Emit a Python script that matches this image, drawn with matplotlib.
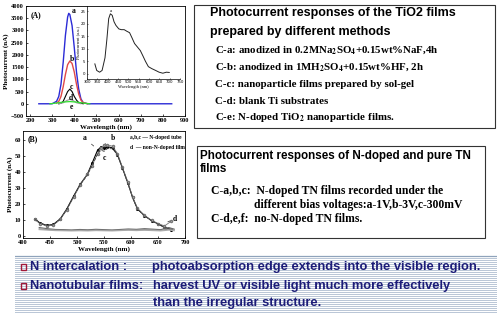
import matplotlib
matplotlib.use("Agg")
import matplotlib.pyplot as plt
from matplotlib.patches import Rectangle

plt.rcParams['mathtext.fontset'] = 'stix'

# ---- data: panel A (TiO2 films)
wl_a = [240, 300, 320, 330, 340, 350, 360, 370, 375, 380, 390, 400, 410, 420, 430, 440, 460, 840]
pc_a = [0, 0, 100, 300, 800, 1700, 2800, 3550, 3700, 3650, 3200, 2300, 1300, 600, 200, 50, 0, 0]
wl_b = [320, 330, 340, 350, 360, 370, 380, 390, 400, 410, 420, 430, 440, 460]
pc_b = [30, 100, 300, 700, 1200, 1600, 1750, 1650, 1300, 800, 400, 150, 50, 0]
wl_c = [330, 340, 350, 360, 370, 380, 390, 400, 410, 420, 440]
pc_c = [0, 20, 100, 300, 500, 600, 500, 300, 150, 50, 0]
wl_d = [330, 350, 365, 380, 395, 410, 430]
pc_d = [0, 40, 130, 180, 130, 40, 0]
wl_e = [290, 320, 350, 380, 410, 440, 470]
pc_e = [0, 30, 70, 90, 70, 30, 0]

# inset curve (a.u.)
wl_in = [338, 347, 361, 373, 387, 396, 405, 413, 422, 431, 440, 454, 466, 480, 492, 506,
         518, 530, 544, 558, 571, 583, 597, 614, 632, 649, 667, 684, 698]
pc_in = [4, 1.4, 0.7, 1.4, 6.4, 13.6, 22, 23.9, 23.3, 20.7, 19.3, 17.9, 17.6, 17.6, 17, 16.4,
         14.3, 12.1, 10.7, 9.3, 7.1, 5, 2.9, 2.1, 1.4, 0.7, 0.3, 0.7, 0.6]

# ---- data: panel B (N-doped vs pure)
wl_n = [422, 431, 444, 456, 469, 481, 494, 506, 519, 528, 538, 544, 550, 556, 566, 575,
        584, 594, 603, 612, 625, 638, 650, 662, 675]
pc_na = [10.9, 8.4, 6.8, 7.4, 10.9, 17, 25.2, 32.4, 38.5, 45.5, 53.5, 55.5, 55, 55.8, 55, 50.8,
         42.6, 33.4, 24.2, 17, 12.9, 9.8, 7.8, 5.7, 4.1]
pc_nb = [10.5, 8.0, 6.5, 7.0, 10.5, 16.5, 24.5, 32, 38.5, 44, 51.5, 55, 56.5, 57, 56, 51.5,
         43, 34, 24.5, 17.5, 13, 10, 8, 6.5, 9.5]
pc_nc = [10.7, 8.2, 6.6, 7.2, 10.7, 16.7, 25, 32.2, 38, 44, 51, 53.5, 53, 54.5, 54.5, 50.5,
         42.5, 33, 24, 17, 12.8, 9.7, 7.6, 5.5, 4.5]
wl_p = [430, 445, 460, 475, 490, 505, 520, 535, 550, 565, 580, 595, 610, 625, 640, 655, 670, 680]
pc_pd = [5.5, 4.8, 4.3, 4.2, 4.0, 4.3, 4.1, 4.4, 4.2, 4.0, 4.3, 4.6, 4.4, 4.8, 4.5, 4.2, 5.5, 4.5]
pc_pe = [4.7, 4.3, 4.0, 3.8, 3.7, 3.9, 3.7, 4.0, 3.8, 3.7, 3.9, 4.2, 4.0, 4.2, 4.0, 3.8, 4.5, 3.9]
pc_pf = [4.2, 3.9, 3.6, 3.5, 3.4, 3.5, 3.4, 3.6, 3.5, 3.4, 3.6, 3.8, 3.6, 3.8, 3.6, 3.4, 3.9, 3.5]

box1_title = ["Photocurrent responses of the TiO2 films", "prepared by different methods"]
box1_lines = [r"C-a: anodized in 0.2MNa$_\mathbf{2}$SO$_\mathbf{4}$+0.15wt%NaF,4h",
              r"C-b: anodized in 1MH$_\mathbf{2}$SO$_\mathbf{4}$+0.15wt%HF, 2h",
              "C-c: nanoparticle films prepared by sol-gel",
              "C-d: blank Ti substrates",
              r"C-e: N-doped TiO$_\mathbf{2}$ nanoparticle films."]
box2_title = ["Photocurrent responses of N-doped and pure TN", "films"]

W, H = 500, 322
def rect(l, t, r, b):
    return [l / W, 1 - b / H, (r - l) / W, (b - t) / H]

fig = plt.figure(figsize=(5, 3.22), dpi=100)
fig.patch.set_facecolor("white")

serif = "Liberation Serif"
sans = "Liberation Sans"
tick_kw = dict(labelsize=4.6, width=0.5, length=1.5, pad=1.5)

# ---------- panel A
axA = fig.add_axes(rect(26, 6, 185, 116))
axA.plot(wl_a, pc_a, color="#2b2bd6", lw=1.0)
axA.plot(wl_b, pc_b, color="#e04848", lw=1.0)
axA.plot(wl_c, pc_c, color="black", lw=0.8)
axA.plot(wl_d, pc_d, color="#9a9a9a", lw=0.8)
axA.plot(wl_e, pc_e, color="#30e030", lw=0.9)
axA.set_xlim(182, 900)
axA.set_ylim(-500, 4000)
axA.set_xticks(range(200, 901, 100))
axA.set_yticks(range(-500, 4001, 500))
axA.tick_params(direction="in", **tick_kw)
for lab in axA.get_xticklabels() + axA.get_yticklabels():
    lab.set_fontfamily(serif)
    lab.set_fontweight("bold")
axA.set_xlabel("Wavelength (nm)", fontsize=5, family=serif, weight="bold", labelpad=1)
axA.set_ylabel("Photocurrent (nA)", fontsize=5, family=serif, weight="bold", labelpad=1)
axA.text(0.03, 0.95, "(A)", transform=axA.transAxes, fontsize=5.5, family=serif, weight="bold", va="top")
for t, x, y in [("a", 388, 3800), ("b", 378, 1850), ("c", 380, 700), ("d", 375, 230), ("e", 380, -150)]:
    axA.text(x, y, t, fontsize=5.5, family=serif, weight="bold", va="center")
for s in axA.spines.values():
    s.set_linewidth(0.6)

axI = fig.add_axes(rect(87, 6, 180, 79))
axI.plot(wl_in, pc_in, color="#222222", lw=0.7)
axI.set_xlim(300, 750)
axI.set_ylim(-2, 27)
axI.set_xticks(range(300, 751, 50))
axI.set_yticks(range(0, 26, 5))
axI.tick_params(direction="in", labelsize=2.8, width=0.4, length=1, pad=1)
axI.spines["top"].set_visible(False)
axI.spines["right"].set_visible(False)
for s in axI.spines.values():
    s.set_linewidth(0.5)
axI.set_xlabel("Wavelength (nm)", fontsize=3.2, family=serif, labelpad=0.5)
axI.set_ylabel("Photocurrent (a.u.)", fontsize=3.2, family=serif, labelpad=0.5)
axI.text(408, 24.5, "a", fontsize=3.5, family=serif)
axI.patch.set_alpha(0)

# ---------- panel B
axB = fig.add_axes(rect(23, 131, 185, 238))
axB.plot(wl_n, pc_na, color="black", lw=0.8, marker="o", ms=1.2)
axB.plot(wl_n, pc_nb, color="#777777", lw=0.6, marker="o", ms=1.5, mfc="white")
axB.plot(wl_n, pc_nc, color="#444444", lw=0.6, ls="--")
axB.plot(wl_p, pc_pd, color="#666666", lw=0.8)
axB.plot(wl_p, pc_pe, color="#888888", lw=0.8)
axB.plot(wl_p, pc_pf, color="#aaaaaa", lw=0.8)
axB.set_xlim(400, 700)
axB.set_ylim(-1, 65.5)
axB.set_xticks(range(400, 701, 50))
axB.set_yticks(range(0, 61, 10))
axB.tick_params(direction="in", **tick_kw)
for lab in axB.get_xticklabels() + axB.get_yticklabels():
    lab.set_fontfamily(serif)
    lab.set_fontweight("bold")
axB.set_xlabel("Wavelength (nm)", fontsize=5, family=serif, weight="bold", labelpad=0.5)
axB.set_ylabel("Photocurrent (nA)", fontsize=5, family=serif, weight="bold", labelpad=1)
axB.text(0.03, 0.96, "(B)", transform=axB.transAxes, fontsize=5.5, family=serif, weight="bold", va="top")
for t, xy, xt in [("a", (535, 55), (514, 61)), ("b", (552, 57.5), (566, 61)),
                  ("c", (550, 53), (550, 48.5)), ("d", (668, 9), (681, 11))]:
    axB.annotate(t, xy=xy, xytext=xt, fontsize=5.5, family=serif, weight="bold",
                 ha="center", va="center", arrowprops=dict(arrowstyle="-", lw=0.4))
axB.text(0.66, 0.96, "a,b,c \u2014 N-doped tube", transform=axB.transAxes, fontsize=4,
         family=serif, weight="bold", va="top")
axB.text(0.66, 0.87, "d  \u2014 non-N-doped film", transform=axB.transAxes, fontsize=4,
         family=serif, weight="bold", va="top")
for s in axB.spines.values():
    s.set_linewidth(0.6)

# ---------- text boxes
def fx(x):
    return x / W

def fy(y):
    return 1 - y / H

fig.patches.append(Rectangle((fx(194), fy(128)), (495 - 194) / W, (128 - 5) / H,
                             transform=fig.transFigure, fill=False, ec="#333333", lw=0.8))
fig.patches.append(Rectangle((fx(197), fy(238)), (485 - 197) / W, (238 - 146) / H,
                             transform=fig.transFigure, fill=False, ec="#333333", lw=0.8))

for i, t in enumerate(box1_title):
    fig.text(fx(210), fy(13 + 19 * i), t, fontsize=9.0, family=sans, weight="bold", va="center")
for i, t in enumerate(box1_lines):
    fig.text(fx(215), fy(50 + 17 * i), t, fontsize=7.8, family=serif, weight="bold", va="center")

fig.text(fx(200), fy(156), box2_title[0], fontsize=8.4, family=sans, weight="bold", va="center")
fig.text(fx(200), fy(169), box2_title[1], fontsize=8.4, family=sans, weight="bold", va="center")
fig.text(fx(211), fy(191), "C-a,b,c:  N-doped TN films recorded under the",
         fontsize=8.4, family=serif, weight="bold", va="center")
fig.text(fx(254), fy(205), "different bias voltages:a-1V,b-3V,c-300mV",
         fontsize=8.4, family=serif, weight="bold", va="center")
fig.text(fx(211), fy(219), "C-d,e,f:  no-N-doped TN films.",
         fontsize=8.4, family=serif, weight="bold", va="center")

# ---------- striped band with bullet text
axS = fig.add_axes(rect(15, 255, 497, 313))
axS.set_xlim(0, 1)
axS.set_ylim(313, 255)
axS.axis("off")
for y in range(256, 313, 2):
    axS.axhline(y, color="#b9c6d6", lw=0.7)
axS.axhline(255.5, color="#8fa3bb", lw=0.9)

navy = "#1c1c78"
fs_b = 9.3
for y in (267, 286):
    fig.patches.append(Rectangle((fx(21), fy(y + 3)), 5 / W, 6 / H, transform=fig.transFigure,
                                 fill=False, ec="#a01838", lw=1.0))
fig.text(fx(30), fy(267), "N intercalation :", fontsize=fs_b, family=sans, weight="bold",
         color=navy, va="center")
fig.text(fx(152), fy(267), "photoabsorption edge extends into the visible region.", fontsize=fs_b,
         family=sans, weight="bold", color=navy, va="center")
fig.text(fx(30), fy(286), "Nanotubular films:", fontsize=fs_b, family=sans, weight="bold",
         color=navy, va="center")
fig.text(fx(153), fy(286), "harvest UV or visible light much more effectively", fontsize=fs_b,
         family=sans, weight="bold", color=navy, va="center")
fig.text(fx(153), fy(303), "than the irregular structure.", fontsize=fs_b, family=sans,
         weight="bold", color=navy, va="center")

fig.savefig("out.png", dpi=100)
